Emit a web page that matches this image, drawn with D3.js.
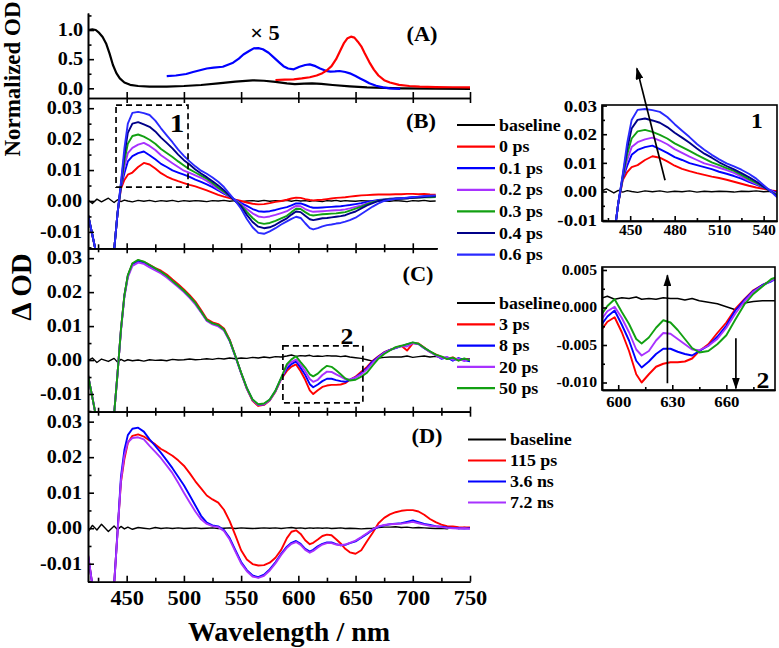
<!DOCTYPE html>
<html><head><meta charset="utf-8">
<script src="https://cdn.jsdelivr.net/npm/d3@7"></script>
<style>
body{margin:0;background:#fff}
svg{display:block;background:#fff}
text{font-family:"Liberation Serif","Times New Roman",serif;font-weight:bold;fill:#000}
</style></head><body>
<svg id="c" width="779" height="648"></svg>
<script>
// ---------------- DATA ----------------
// Panel A: normalized spectra
const absWl = [416,420,423,426,429,432,435,438,441,444,448,453,460,470,485,500,515,530,545,560,570,580,590,597,605,612,620,630,645,660,675,690,720,750];
const absOD = [1.0,1.01,1.0,0.95,0.88,0.77,0.6,0.4,0.26,0.17,0.1,0.06,0.04,0.03,0.03,0.04,0.057,0.085,0.115,0.137,0.13,0.11,0.085,0.072,0.08,0.085,0.075,0.057,0.035,0.017,0.007,0.0,-0.005,-0.01];
const blueWl = [485,493,502,508,514,520,526,534,543,548,552,557,561,565,569,574,578,583,587,591,596,601,606,610,615,619,624,628,632,636,641,645,650,654,658,662,668,674,680,689];
const blueOD = [0.21,0.22,0.246,0.28,0.31,0.34,0.355,0.37,0.44,0.51,0.58,0.64,0.686,0.69,0.67,0.61,0.54,0.45,0.38,0.34,0.326,0.37,0.4,0.41,0.38,0.34,0.3,0.286,0.29,0.297,0.28,0.257,0.21,0.17,0.13,0.086,0.045,0.017,0.0,-0.01];
const redWl = [580,588,596,603,610,616,621,625,629,633,637,640,643,646,649,652,655,658,662,666,670,675,680,688,697,706,720,735,750];
const redOD = [0.143,0.15,0.155,0.17,0.19,0.22,0.26,0.31,0.38,0.5,0.66,0.78,0.86,0.886,0.87,0.8,0.72,0.6,0.45,0.32,0.22,0.14,0.1,0.06,0.04,0.03,0.022,0.018,0.017];

// Wavelength grid for transient spectra (nm)
const wl = [416,420,424,428,434,439,442,445,448,451,
  455,460,465,470,475,480,485,490,495,500,
  505,510,515,520,525,530,535,540,545,550,
  555,560,565,570,575,580,585,590,594,598,
  602,606,610,613,617,621,625,629,633,637,
  641,645,650,655,660,665,670,675,680,685,
  690,695,700,705,710,715,720,725,730,735,
  740,745,750];
const wlB = wl.slice(0, 67); // panel B stops at 720 nm

// Panel B (ΔOD)
const bBase = [0.0004,-0.0008,0.0006,-0.0003,0.0009,-0.0005,0.0004,-0.0002,0.0003,0.0,
  -0.0003,0.0002,-0.0001,0.0002,-0.0002,0.0001,-0.0001,0.0002,-0.0002,0.0001,
  -0.0001,0.0001,0.0,-0.0002,0.0001,0.0,0.0002,-0.0001,0.0001,-0.0002,
  0.0,0.0001,-0.0001,0.0002,-0.0001,0.0001,0.0,0.0002,-0.0001,0.0002,
  0.0,0.0001,-0.0001,0.0001,0.0,-0.0002,0.0001,0.0,0.0002,-0.0001,
  0.0001,0.0,-0.0001,0.0001,0.0,-0.0001,0.0001,0.0,-0.0001,0.0001,
  0.0,-0.0002,0.0001,0.0,0.0002,-0.0001,0.0];
const b0 = [-0.004,-0.011,-0.018,-0.025,-0.028,-0.016,-0.004,0.004,0.0068,0.0085,
  0.0092,0.011,0.0123,0.0118,0.0105,0.009,0.0079,0.0071,0.0064,0.0058,
  0.0052,0.0047,0.0041,0.0034,0.0027,0.002,0.0014,0.0009,0.0004,0.0,
  -0.0005,-0.0009,-0.0011,-0.001,-0.0007,-0.0003,0.0,0.0004,0.0008,0.0011,
  0.001,0.0006,0.0003,0.0002,0.0003,0.0004,0.0006,0.0008,0.001,0.0011,
  0.0012,0.0014,0.0016,0.0018,0.0019,0.002,0.0021,0.0021,0.0021,0.0022,
  0.0022,0.0023,0.0023,0.0022,0.0023,0.0021,0.002];
const b01 = [-0.004,-0.011,-0.018,-0.025,-0.028,-0.016,-0.004,0.0045,0.009,0.0128,
  0.0145,0.0155,0.016,0.0148,0.0135,0.012,0.011,0.0099,0.0092,0.0085,
  0.0078,0.0069,0.0062,0.0054,0.0045,0.0034,0.0024,0.0014,0.0004,-0.0007,
  -0.0016,-0.0026,-0.0033,-0.0035,-0.0033,-0.0029,-0.0024,-0.002,-0.0014,-0.0008,
  -0.0008,-0.0013,-0.0019,-0.0022,-0.0022,-0.0021,-0.002,-0.0019,-0.0018,-0.0017,
  -0.0015,-0.0013,-0.001,-0.0007,-0.0003,0.0,0.0003,0.0005,0.0007,0.0008,
  0.0009,0.001,0.0012,0.0013,0.0014,0.0015,0.0016];
const b02 = [-0.004,-0.011,-0.018,-0.025,-0.028,-0.016,-0.004,0.0048,0.011,0.0155,
  0.0172,0.0182,0.0188,0.0178,0.0165,0.0148,0.0135,0.0122,0.011,0.0098,
  0.0091,0.0083,0.0075,0.0065,0.0052,0.0038,0.0027,0.0015,0.0002,-0.0011,
  -0.0026,-0.004,-0.005,-0.0053,-0.005,-0.0045,-0.0039,-0.0033,-0.0024,-0.0016,
  -0.0017,-0.0026,-0.0032,-0.0035,-0.0034,-0.0033,-0.0032,-0.0031,-0.003,-0.0029,
  -0.0027,-0.0024,-0.0019,-0.0014,-0.0008,-0.0003,0.0001,0.0004,0.0006,0.0007,
  0.0008,0.0009,0.001,0.0011,0.0013,0.0013,0.0014];
const b03 = [-0.004,-0.011,-0.018,-0.025,-0.028,-0.016,-0.004,0.005,0.013,0.0185,
  0.021,0.0215,0.0208,0.0198,0.0185,0.0168,0.0155,0.0142,0.0128,0.0115,
  0.0102,0.0092,0.0082,0.0072,0.0058,0.0043,0.003,0.0016,0.0,-0.0014,
  -0.0035,-0.0055,-0.007,-0.0074,-0.0071,-0.0064,-0.0056,-0.0048,-0.0036,-0.0025,
  -0.0026,-0.0036,-0.0045,-0.0047,-0.0045,-0.0043,-0.0042,-0.0041,-0.004,-0.0038,
  -0.0036,-0.0031,-0.0025,-0.0018,-0.001,-0.0004,0.0001,0.0004,0.0006,0.0007,
  0.0008,0.0009,0.001,0.0011,0.0012,0.0012,0.0013];
const b04 = [-0.004,-0.011,-0.018,-0.025,-0.028,-0.016,-0.004,0.0055,0.015,0.022,
  0.025,0.0255,0.0248,0.024,0.0225,0.0205,0.0188,0.017,0.015,0.0132,
  0.0118,0.0102,0.0089,0.0077,0.0064,0.005,0.0035,0.0017,-0.0001,-0.0018,
  -0.0045,-0.0068,-0.0083,-0.0088,-0.0085,-0.0077,-0.0066,-0.0056,-0.0044,-0.0034,
  -0.0036,-0.0048,-0.0059,-0.0062,-0.0059,-0.0056,-0.0055,-0.0053,-0.0051,-0.0049,
  -0.0046,-0.004,-0.0034,-0.0024,-0.0014,-0.0007,0.0,0.0003,0.0005,0.0007,
  0.0008,0.0009,0.001,0.0012,0.0013,0.0014,0.0015];
const b06 = [-0.004,-0.011,-0.018,-0.025,-0.028,-0.016,-0.004,0.006,0.017,0.025,
  0.0285,0.0288,0.0284,0.0278,0.026,0.0235,0.0212,0.019,0.0166,0.0146,
  0.0128,0.0112,0.0098,0.0088,0.0076,0.0062,0.0045,0.0022,0.0,-0.0025,
  -0.0058,-0.0085,-0.0103,-0.0106,-0.0098,-0.0088,-0.0076,-0.0066,-0.0058,-0.0051,
  -0.0055,-0.0072,-0.0088,-0.0092,-0.0088,-0.0082,-0.0078,-0.0076,-0.0073,-0.0071,
  -0.0067,-0.0062,-0.0054,-0.0042,-0.003,-0.0018,-0.0008,0.0,0.0004,0.0007,
  0.0009,0.0011,0.0013,0.0014,0.0016,0.0017,0.0018];

// Panel C (ΔOD)
const cBase = [-0.0002,0.0006,-0.0007,0.0003,-0.0004,0.0005,-0.0006,0.0002,-0.0003,0.0001,
  -0.0002,0.0,-0.0003,0.0001,-0.0001,0.0,-0.0002,0.0002,0.0,0.0001,
  0.0003,0.0001,0.0002,0.0004,0.0002,0.0005,0.0003,0.0006,0.0004,0.0006,
  0.0005,0.0008,0.0006,0.0009,0.0007,0.001,0.0009,0.0012,0.0015,0.0011,
  0.0013,0.0012,0.0014,0.0011,0.0012,0.0011,0.0013,0.0012,0.0012,0.001,
  0.0012,0.0009,0.0007,0.0005,0.0001,-0.0003,0.0006,0.0008,0.0009,0.0009,
  0.0009,0.0012,0.0008,0.001,0.0012,0.0009,0.0011,0.0007,0.0005,0.0003,
  0.0005,0.0002,0.0004];
const c3 = [-0.004,-0.011,-0.018,-0.025,-0.028,-0.016,-0.004,0.009,0.019,0.0248,
  0.0283,0.0293,0.0289,0.028,0.0271,0.0263,0.0252,0.0237,0.0223,0.0208,
  0.0191,0.0172,0.0147,0.0121,0.0111,0.0106,0.0093,0.006,0.0012,-0.0038,
  -0.0085,-0.012,-0.0135,-0.0132,-0.0119,-0.0093,-0.0056,-0.0032,-0.0019,-0.0013,
  -0.0033,-0.0058,-0.0089,-0.01,-0.0089,-0.0079,-0.0075,-0.0073,-0.0073,-0.0072,
  -0.0068,-0.0058,-0.0049,-0.0034,-0.002,-0.0002,0.0011,0.0023,0.003,0.0036,
  0.0042,0.0028,0.0049,0.0049,0.0037,0.0024,0.0017,0.0009,0.0004,0.0008,
  -0.0001,0.0003,0.0];
const c8 = [-0.004,-0.011,-0.018,-0.025,-0.028,-0.016,-0.004,0.009,0.019,0.0248,
  0.0282,0.0292,0.0287,0.0278,0.0268,0.0259,0.0247,0.0232,0.0218,0.0203,
  0.0186,0.0167,0.0142,0.0117,0.0107,0.0102,0.0089,0.0057,0.0011,-0.0038,
  -0.0083,-0.0117,-0.0132,-0.013,-0.0117,-0.0091,-0.0054,-0.0025,-0.0012,-0.0004,
  -0.0023,-0.0044,-0.0071,-0.008,-0.0072,-0.0062,-0.0055,-0.0055,-0.0059,-0.0062,
  -0.0064,-0.0058,-0.0051,-0.0039,-0.0024,-0.0004,0.001,0.0022,0.003,0.0035,
  0.0041,0.0046,0.0051,0.0047,0.0035,0.0025,0.0015,0.0004,0.0008,-0.0002,
  0.0006,0.0,-0.0004];
const c20 = [-0.004,-0.011,-0.018,-0.025,-0.028,-0.016,-0.004,0.0085,0.0185,0.0243,
  0.0277,0.0287,0.0283,0.0273,0.0264,0.0255,0.0243,0.0229,0.0215,0.02,
  0.0183,0.0164,0.014,0.0115,0.0105,0.0099,0.0087,0.0056,0.001,-0.0039,
  -0.0084,-0.0118,-0.0132,-0.013,-0.0118,-0.0092,-0.0055,-0.0018,-0.0005,0.0001,
  -0.0014,-0.0033,-0.0056,-0.0064,-0.0058,-0.0044,-0.0034,-0.0035,-0.0042,-0.0049,
  -0.0056,-0.0057,-0.0051,-0.0042,-0.0027,-0.0008,0.0008,0.0021,0.0029,0.0036,
  0.0041,0.004,0.005,0.0047,0.0035,0.0024,0.0014,0.0006,0.0009,0.0001,
  0.0004,-0.0003,0.0003];
const c50 = [-0.004,-0.011,-0.018,-0.025,-0.028,-0.016,-0.004,0.009,0.019,0.025,
  0.0285,0.0295,0.029,0.028,0.027,0.026,0.0248,0.0233,0.0219,0.0204,
  0.0187,0.0168,0.0143,0.0118,0.0108,0.0103,0.009,0.0058,0.0012,-0.0037,
  -0.0082,-0.0116,-0.013,-0.0128,-0.0116,-0.009,-0.0052,-0.0012,0.0002,0.0011,
  -0.0006,-0.0022,-0.0042,-0.0048,-0.004,-0.0027,-0.0017,-0.002,-0.003,-0.0042,
  -0.0054,-0.006,-0.0058,-0.0049,-0.0037,-0.0016,0.0004,0.0018,0.0028,0.0038,
  0.0042,0.0047,0.0052,0.0048,0.0036,0.0026,0.0016,0.0011,0.0003,0.0007,
  -0.0002,0.0005,-0.0001];

// Panel D (ΔOD)
const dBase = [-0.0012,0.0008,-0.0005,0.0011,-0.0009,0.0006,-0.0004,0.0005,-0.0002,0.0003,
  -0.0003,0.0002,0.0,-0.0002,0.0002,-0.0001,0.0001,-0.0001,0.0001,-0.0001,
  0.0,0.0001,-0.0001,0.0,0.0001,-0.0001,0.0,0.0001,-0.0001,0.0001,
  0.0,-0.0001,0.0,0.0001,0.0,0.0001,-0.0001,0.0001,0.0002,0.0,
  0.0001,-0.0001,0.0001,0.0,0.0001,0.0,0.0001,-0.0001,0.0,0.0001,
  -0.0001,0.0,-0.0001,-0.0002,-0.0001,0.0,0.0002,0.0003,0.0003,0.0004,
  0.0002,0.0003,0.0001,0.0002,0.0001,0.0,-0.0001,0.0,-0.0002,0.0004,
  -0.0001,0.0002,0.0];
const d115 = [-0.007,-0.016,-0.025,-0.03,-0.032,-0.016,-0.001,0.013,0.0195,0.024,
  0.026,0.0264,0.0258,0.0247,0.0236,0.0223,0.0214,0.0204,0.0191,0.0176,
  0.0155,0.0132,0.0112,0.0092,0.0081,0.0072,0.0052,0.002,-0.002,-0.0062,
  -0.0088,-0.0101,-0.0105,-0.0104,-0.0097,-0.0083,-0.0061,-0.0028,-0.001,-0.0006,
  -0.0016,-0.0034,-0.0045,-0.0041,-0.0032,-0.0022,-0.0018,-0.002,-0.0031,-0.0043,
  -0.0058,-0.0068,-0.0072,-0.0062,-0.0037,-0.0013,0.0014,0.0029,0.0039,0.0045,
  0.0049,0.0051,0.0051,0.0047,0.0038,0.0026,0.0017,0.001,0.0006,0.0005,
  0.0003,0.0002,0.0002];
const d36 = [-0.007,-0.016,-0.025,-0.03,-0.032,-0.016,-0.001,0.0145,0.022,0.0262,
  0.028,0.0283,0.0272,0.025,0.0232,0.0212,0.0191,0.0169,0.0145,0.0121,
  0.0093,0.0064,0.0035,0.0016,0.0008,0.0005,-0.0005,-0.0028,-0.0062,-0.0095,
  -0.0118,-0.0133,-0.0138,-0.0131,-0.0116,-0.0096,-0.0072,-0.0052,-0.0041,-0.0036,
  -0.0044,-0.0058,-0.0066,-0.0061,-0.0051,-0.0044,-0.004,-0.004,-0.0045,-0.0048,
  -0.0047,-0.0042,-0.0037,-0.0027,-0.0016,-0.0004,0.0004,0.0008,0.0011,0.0013,
  0.0014,0.0018,0.0022,0.0017,0.0012,0.0009,0.0006,0.0004,0.0002,0.0001,
  0.0,-0.0001,0.0];
const d72 = [-0.007,-0.016,-0.025,-0.03,-0.032,-0.016,-0.0015,0.0135,0.0205,0.0242,
  0.0254,0.0256,0.025,0.0232,0.0215,0.0197,0.0176,0.0155,0.0128,0.01,
  0.0073,0.0047,0.0025,0.0012,0.0006,0.0003,-0.0008,-0.0032,-0.0066,-0.0099,
  -0.0121,-0.0136,-0.014,-0.0134,-0.0119,-0.0099,-0.0075,-0.0055,-0.0044,-0.0039,
  -0.0047,-0.0061,-0.0069,-0.0064,-0.0054,-0.0046,-0.0042,-0.0042,-0.0046,-0.0048,
  -0.0046,-0.0041,-0.0035,-0.0025,-0.0014,-0.0003,0.0005,0.0009,0.0011,0.0012,
  0.0013,0.0015,0.0018,0.0014,0.001,0.0007,0.0005,0.0003,0.0001,0.0,
  -0.0001,0.0,-0.0002];

// Tick values
const xMajor = [450,500,550,600,650,700,750];
const xMinor = [425,475,525,575,625,675,725];
const aMajor = [0,0.5,1.0];
const aMinor = [0.25,0.75,1.25];
const dMajor = [-0.01,0,0.01,0.02,0.03];
const dMinor = [-0.015,-0.005,0.005,0.015,0.025];
const i1xMajor = [450,480,510,540], i1xMinor = [435,465,495,525];
const i2xMajor = [600,630,660], i2xMinor = [615,645,675];
const i2yMajor = [-0.01,-0.005,0,0.005], i2yMinor = [-0.0075,-0.0025,0.0025];

// Series / legends
const seriesB = [
  {name:"baseline", color:"#000000", v:bBase},
  {name:"0 ps", color:"#ff0000", v:b0},
  {name:"0.1 ps", color:"#0000ff", v:b01},
  {name:"0.2 ps", color:"#a832ff", v:b02},
  {name:"0.3 ps", color:"#12a012", v:b03},
  {name:"0.4 ps", color:"#000088", v:b04},
  {name:"0.6 ps", color:"#2a2aff", v:b06}];
const seriesC = [
  {name:"baseline", color:"#000000", v:cBase},
  {name:"3 ps", color:"#ff0000", v:c3},
  {name:"8 ps", color:"#0000ff", v:c8},
  {name:"20 ps", color:"#a832ff", v:c20},
  {name:"50 ps", color:"#12a012", v:c50}];
const seriesD = [
  {name:"baseline", color:"#000000", v:dBase},
  {name:"115 ps", color:"#ff0000", v:d115},
  {name:"3.6 ns", color:"#0000ff", v:d36},
  {name:"7.2 ns", color:"#a832ff", v:d72}];

// ---------------- DRAWING ----------------
const svg = d3.select("#c");
const L = 88, R = 470, RB = 437;
const x = d3.scaleLinear().domain([416.2, 750]).range([L, R]);
const xS = d3.scaleLinear().domain([416.2, x.invert(RB)]).range([L, RB]);
const yA = d3.scaleLinear().domain([-0.166, 1.292]).range([98, 13]);
const yB = d3.scaleLinear().domain([-0.0153, 0.0333]).range([248.3, 98]);
const yC = d3.scaleLinear().domain([-0.0152, 0.0329]).range([411.7, 248.3]);
const yD = d3.scaleLinear().domain([-0.01506, 0.0328]).range([581.7, 411.7]);
const xi1 = d3.scaleLinear().domain([431, 549]).range([602, 777]);
const yi1 = d3.scaleLinear().domain([-0.0103, 0.0302]).range([221, 105]);
const xi2 = d3.scaleLinear().domain([591, 687]).range([602, 775]);
const yi2 = d3.scaleLinear().domain([-0.011, 0.0054]).range([390, 267]);

const defs = svg.append("defs");
function clip(id, x0, y0, x1, y1){
  defs.append("clipPath").attr("id", id).append("rect")
    .attr("x", x0).attr("y", y0).attr("width", x1 - x0).attr("height", y1 - y0);
}
clip("cA", L, 13, R, 98); clip("cB", L, 98, 440, 248.3);
clip("cC", L, 248.3, R, 411.7); clip("cD", L, 411.7, R, 581.7);
clip("cI1", 602, 105, 777, 221); clip("cI2", 602, 267, 775, 390);
defs.append("marker").attr("id","arr").attr("viewBox","0 0 12 8").attr("refX",11).attr("refY",4)
  .attr("markerWidth",12).attr("markerHeight",8).attr("markerUnits","userSpaceOnUse").attr("orient","auto")
  .append("path").attr("d","M0,0L12,4L0,8Z").attr("fill","#000");

function curve(g, xs, ys, xv, vals, color, w){
  g.append("path").datum(d3.zip(xv, vals)).attr("fill","none").attr("stroke", color)
    .attr("stroke-width", w).attr("stroke-linejoin","round")
    .attr("d", d3.line().x(d => xs(d[0])).y(d => ys(d[1])));
}
const LW = 1.9, BW = 1.4;

// Panel A curves
const gA = svg.append("g").attr("clip-path","url(#cA)");
curve(gA, x, yA, absWl, absOD, "#000", 2.2);
curve(gA, x, yA, blueWl, blueOD, "#0000ff", 2.2);
curve(gA, x, yA, redWl, redOD, "#ff0000", 2.2);

// Panel B
const gB = svg.append("g").attr("clip-path","url(#cB)");
seriesB.forEach((s, i) => curve(gB, x, yB, wlB, s.v, s.color, i === 0 ? BW : LW));
// Panel C
const gC = svg.append("g").attr("clip-path","url(#cC)");
seriesC.forEach((s, i) => curve(gC, x, yC, wl, s.v, s.color, i === 0 ? BW : LW));
// Panel D
const gD = svg.append("g").attr("clip-path","url(#cD)");
seriesD.forEach((s, i) => curve(gD, x, yD, wl, s.v, s.color, i === 0 ? BW : LW));

// Axis helpers
const fmt2 = d => d3.format(".2f")(d).replace("\u2212", "-");
const fmt1 = d => d3.format(".1f")(d).replace("\u2212", "-");
const fmt3 = d => d3.format(".3f")(d).replace("\u2212", "-");
function styleAxis(g, fs){
  g.attr("font-family", null).attr("font-size", fs);
  g.selectAll("path,line").attr("stroke-width", 1.6);
  g.selectAll("text").classed("s", true);
  return g;
}
function leftAxis(tx, ys, majors, minors, fmt, fs, pad, len, mlen){
  styleAxis(svg.append("g").attr("transform", `translate(${tx},0)`)
    .call(d3.axisLeft(ys).tickValues(majors).tickSizeInner(-len).tickSizeOuter(0).tickPadding(pad).tickFormat(fmt)), fs);
  styleAxis(svg.append("g").attr("transform", `translate(${tx},0)`)
    .call(d3.axisLeft(ys).tickValues(minors).tickSizeInner(-mlen).tickSizeOuter(0).tickFormat("")), fs);
}
function hLine(ty, xs, majors, minors, up, down, mup, mdown){
  const mk = (vals, size, top) => styleAxis(svg.append("g").attr("transform", `translate(0,${ty})`)
    .call((top ? d3.axisTop(xs) : d3.axisBottom(xs)).tickValues(vals).tickSizeInner(size).tickSizeOuter(0).tickFormat("")), 10);
  if (up) mk(majors, up, true);
  if (down) mk(majors, down, false);
  if (minors.length) { if (mup) mk(minors, mup, true); if (mdown) mk(minors, mdown, false); }
}

leftAxis(L, yA, aMajor, aMinor, fmt1, 18, 5, 6, 3.5);
leftAxis(L, yB, dMajor, dMinor.filter(v => v < 0.033), fmt2, 18, 6, 6, 3.5);
leftAxis(L, yC, dMajor, dMinor.filter(v => v < 0.032), fmt2, 18, 6, 6, 3.5);
leftAxis(L, yD, dMajor, dMinor.filter(v => v < 0.032), fmt2, 18, 6, 6, 3.5);

hLine(98, x, xMajor, [], 6, 5, 0, 0);
hLine(248.3, xS, xMajor.filter(v => v <= 720), xMinor.filter(v => v <= 720), 5, 5, 4, 4);
hLine(411.7, x, xMajor, xMinor, 5, 5, 4, 4);
// bottom axis of D with labels
styleAxis(svg.append("g").attr("transform", "translate(0,581.7)")
  .call(d3.axisBottom(x).tickValues(xMajor).tickSizeInner(-6).tickSizeOuter(0).tickPadding(9).tickFormat(d3.format("d"))), 20);
styleAxis(svg.append("g").attr("transform", "translate(0,581.7)")
  .call(d3.axisBottom(x).tickValues(xMinor).tickSizeInner(-4).tickSizeOuter(0).tickFormat("")), 20);

// Insets
function inset(xs, ys, clipId, series, xv, xMaj, xMin, yMaj, yMin, yfmt, yfs, xfs, xpad){
  const [x0, x1] = xs.range(), [y1, y0] = ys.range();
  const g = svg.append("g").attr("clip-path", `url(#${clipId})`);
  series.forEach((s, i) => curve(g, xs, ys, xv, s.v, s.color, i === 0 ? BW : LW));
  svg.append("rect").attr("x", x0).attr("y", y0).attr("width", x1 - x0).attr("height", y1 - y0)
    .attr("fill", "none").attr("stroke", "#000").attr("stroke-width", 1.6);
  leftAxis(x0, ys, yMaj, yMin, yfmt, yfs, 5, 5, 3);
  styleAxis(svg.append("g").attr("transform", `translate(0,${y1})`)
    .call(d3.axisBottom(xs).tickValues(xMaj).tickSizeInner(-5).tickSizeOuter(0).tickPadding(xpad).tickFormat(d3.format("d"))), xfs);
  styleAxis(svg.append("g").attr("transform", `translate(0,${y1})`)
    .call(d3.axisBottom(xs).tickValues(xMin).tickSizeInner(-3).tickSizeOuter(0).tickFormat("")), xfs);
}
inset(xi1, yi1, "cI1", seriesB, wlB, i1xMajor, i1xMinor, dMajor.filter(v => v >= -0.01), dMinor.filter(v => v > -0.01 && v < 0.03), fmt2, 17, 14, 4);
inset(xi2, yi2, "cI2", seriesC, wl, i2xMajor, i2xMinor, i2yMajor, i2yMinor, fmt3, 14, 15, 6);

// Arrows
function arrow(xs, ys, a, b){
  svg.append("line").attr("x1", xs(a[0])).attr("y1", ys(a[1])).attr("x2", xs(b[0])).attr("y2", ys(b[1]))
    .attr("stroke", "#000").attr("stroke-width", 1.7).attr("marker-end", "url(#arr)");
}
arrow(xi1, yi1, [473.5, 0.0039], [454.5, 0.043]);
arrow(xi2, yi2, [627.3, -0.0101], [627.3, 0.0043]);
arrow(xi2, yi2, [665.3, -0.0041], [665.3, -0.0108]);

// Dashed boxes
function dbox(xs, ys, l0, l1, v0, v1){
  svg.append("rect").attr("x", xs(l0)).attr("y", ys(v1)).attr("width", xs(l1) - xs(l0)).attr("height", ys(v0) - ys(v1))
    .attr("fill", "none").attr("stroke", "#000").attr("stroke-width", 1.7).attr("stroke-dasharray", "6,4");
}
dbox(x, yB, 440.7, 503.6, 0.0045, 0.0310);
dbox(x, yC, 586.5, 656.4, -0.0126, 0.0042);

// Legends
function legend(items, lx, ly, dy){
  items.forEach((s, i) => {
    const yy = ly + i * dy;
    svg.append("line").attr("x1", lx).attr("x2", lx + 38).attr("y1", yy).attr("y2", yy)
      .attr("stroke", s.color).attr("stroke-width", 2.2);
    svg.append("text").attr("class", "s").attr("x", lx + 42).attr("y", yy).attr("dy", "0.35em")
      .attr("font-size", 16).text(s.name);
  });
}
legend(seriesB, 457, 125, 21.6);
legend(seriesC, 457, 303, 21.3);
legend(seriesD, 468, 439.5, 21);

// Labels
function label(t, lx, ly, fs, anchor){
  return svg.append("text").attr("class", "s").attr("x", lx).attr("y", ly).attr("dy", "0.35em")
    .attr("font-size", fs).attr("text-anchor", anchor || "middle").text(t);
}
label("(A)", 422, 34, 20);
label("\u00d7 5", 265, 33, 20);
label("(B)", 421, 121, 20);
label("(C)", 418, 274, 20);
label("(D)", 427, 436, 20);
label("1", 177, 123, 26);
label("2", 347, 336, 23);
label("1", 757, 121, 21);
label("2", 763, 380, 23);

svg.append("text").attr("transform", "translate(20,79) rotate(-90)").attr("text-anchor", "middle")
  .attr("font-size", 23).text("Normalized OD");
svg.append("text").attr("transform", "translate(31,287) rotate(-90)").attr("text-anchor", "middle")
  .attr("font-size", 29).text("\u0394 OD");
svg.append("text").attr("x", 289).attr("y", 641).attr("text-anchor", "middle")
  .attr("font-size", 28).text("Wavelength / nm");

// slight horizontal stretch of the original typesetting
svg.selectAll("text.s").each(function(){
  const w = this.getComputedTextLength();
  if (w > 0) { this.setAttribute("textLength", w * 1.12); this.setAttribute("lengthAdjust", "spacingAndGlyphs"); }
});
</script>
</body></html>
